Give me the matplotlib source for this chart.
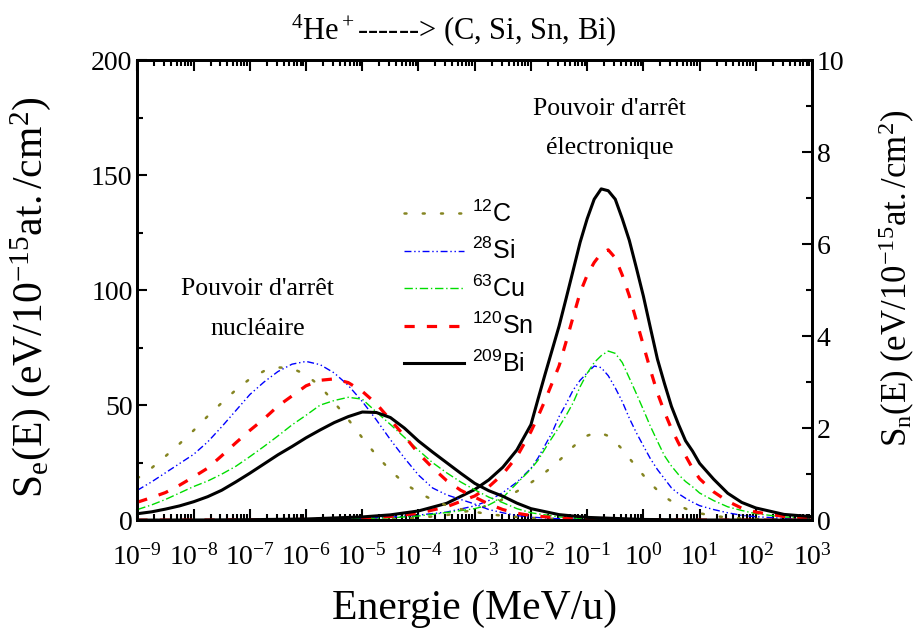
import numpy as np
import matplotlib
matplotlib.use("Agg")
import matplotlib.pyplot as plt
from matplotlib.ticker import LogLocator, FuncFormatter, MultipleLocator, NullFormatter

plt.rcParams['font.family'] = ['Liberation Serif', 'DejaVu Serif']
plt.rcParams['mathtext.fontset'] = 'custom'
plt.rcParams['mathtext.rm'] = 'Liberation Serif'
plt.rcParams['mathtext.it'] = 'Liberation Serif:italic'
plt.rcParams['mathtext.sf'] = 'Liberation Sans'

# log10 of energy (MeV/u) where the curves were read
nuc_logE = [-9, -8.75, -8.5, -8.25, -8, -7.75, -7.5, -7.25, -7, -6.75, -6.5, -6.25, -6,
            -5.75, -5.5, -5.25, -5, -4.75, -4.5, -4.25, -4, -3.75, -3.5, -3.25, -3,
            -2.75, -2.5, -2.25, -2, -1.5, -1, 0, 1, 2, 3]
ele_logE = [-9, -8, -7, -6, -5, -4.5, -4, -3.5, -3, -2.75, -2.5, -2.25, -2, -1.875,
            -1.75, -1.625, -1.5, -1.375, -1.25, -1.125, -1, -0.875, -0.75, -0.625,
            -0.5, -0.375, -0.25, -0.125, 0, 0.125, 0.25, 0.375, 0.5, 0.625, 0.75,
            0.875, 1, 1.25, 1.5, 1.75, 2, 2.5, 3]

# nuclear stopping, right axis (eV/1e-15 at./cm2)
sn_C = [0.91, 1.13, 1.39, 1.66, 1.95, 2.26, 2.55, 2.83, 3.07, 3.24, 3.32, 3.30, 3.16,
        2.91, 2.56, 2.19, 1.79, 1.41, 1.08, 0.80, 0.60, 0.44, 0.32, 0.24, 0.18,
        0.13, 0.095, 0.07, 0.05, 0.025, 0.013, 0.004, 0.0015, 0.0005, 0.0]
sn_Si = [0.65, 0.83, 1.03, 1.23, 1.43, 1.7, 2.03, 2.38, 2.73, 3.0, 3.23, 3.39, 3.45,
         3.38, 3.2, 2.93, 2.58, 2.18, 1.75, 1.35, 0.98, 0.7, 0.55, 0.45, 0.35,
         0.23, 0.16, 0.1, 0.065, 0.03, 0.015, 0.005, 0.0015, 0.0005, 0.0]
sn_Cu = [0.23, 0.33, 0.45, 0.59, 0.73, 0.85, 1.0, 1.17, 1.38, 1.6, 1.83, 2.07, 2.28,
         2.5, 2.6, 2.67, 2.63, 2.35, 2.08, 1.8, 1.52, 1.25, 1.03, 0.83, 0.66,
         0.5, 0.38, 0.25, 0.16, 0.07, 0.03, 0.008, 0.002, 0.0005, 0.0]
sn_Sn = [0.39, 0.49, 0.6, 0.76, 0.94, 1.13, 1.4, 1.68, 1.95, 2.2, 2.48, 2.7, 2.92,
         3.04, 3.07, 2.99, 2.8, 2.53, 2.18, 1.83, 1.45, 1.14, 0.86, 0.65, 0.5,
         0.35, 0.23, 0.15, 0.1, 0.045, 0.02, 0.005, 0.0015, 0.0005, 0.0]
sn_Bi = [0.14, 0.18, 0.24, 0.31, 0.4, 0.51, 0.65, 0.83, 1.02, 1.22, 1.42, 1.6, 1.79,
         1.96, 2.12, 2.25, 2.35, 2.34, 2.23, 2.0, 1.72, 1.48, 1.25, 1.02, 0.8,
         0.64, 0.52, 0.37, 0.25, 0.12, 0.06, 0.015, 0.004, 0.001, 0.0003]

# electronic stopping, left axis
se_C = [0.01, 0.02, 0.05, 0.12, 0.3, 0.6, 1.0, 2.2, 4.5, 6.5, 9.0, 12.5, 16.3, 18.4,
        20.7, 23.2, 25.9, 28.7, 31.9, 34.6, 36.7, 37.8, 37.8, 36.6, 34, 30.8, 26.9,
        23.2, 19.5, 16, 13, 10.2, 8.2, 6.5, 5, 3.8, 3, 1.8, 1.2, 0.7, 0.5, 0.2, 0.1]
se_Si = [0.01, 0.03, 0.1, 0.3, 0.8, 1.3, 2.2, 3.5, 6.2, 8.5, 12, 16.5, 22.5, 27,
         32.5, 38, 45, 50.5, 56.5, 60.8, 64, 67, 66.3, 62.8, 57.5, 51.5, 44.3,
         38, 32.3, 26.7, 22, 18, 14, 11.5, 9.5, 7.8, 6.3, 4.6, 3.2, 2.1, 1.5, 0.8, 0.4]
se_Cu = [0.01, 0.02, 0.06, 0.2, 0.6, 1.0, 1.8, 3.3, 5.0, 6.6, 9.8, 16, 22.2, 26,
         31, 35.8, 40.5, 45.5, 51, 58, 63.8, 68.5, 71.5, 73.5, 72.5, 68.5, 61.8,
         55, 48, 40.8, 34.3, 28, 23.5, 19.8, 16.8, 14.5, 11.8, 8.5, 5.8, 4.2, 2.8, 1.4, 0.8]
se_Sn = [0.01, 0.03, 0.1, 0.3, 0.9, 1.6, 3.0, 5.8, 10.5, 14.5, 20, 27.6, 38.5, 45,
         52, 59.5, 67, 77.5, 88.3, 98.9, 106.5, 112, 116, 117.5, 114, 106.5, 97.5,
         86.8, 76, 65.3, 55.3, 47, 39.7, 33.5, 28, 22.5, 18, 12.3, 8.2, 5.2, 3.5, 1.6, 0.9]
se_Bi = [0.02, 0.06, 0.2, 0.5, 1.4, 2.3, 4.0, 7.3, 13.3, 17.5, 23, 30.5, 41.5, 52.5,
         63.3, 73.8, 84.3, 96.3, 108.5, 120.8, 131, 139.5, 144, 143.2, 139.5, 131,
         121.6, 109.7, 97.4, 83.6, 70, 59.4, 49.4, 41.6, 34.5, 30, 24.7, 17.8, 11.7,
         7.7, 5.3, 2.5, 1.5]

labels = [r'$\mathsf{^{12}C}$', r'$\mathsf{^{28}Si}$', r'$\mathsf{^{63}Cu}$',
          r'$\mathsf{^{120}Sn}$', r'$\mathsf{^{209}Bi}$']

styles = [
    dict(color='#858522', lw=1.8, dashes=(0.8, 6.5), dash_capstyle='round'),
    dict(color='#0000ff', lw=1.0, dashes=(5, 2, 1, 2, 1, 2)),
    dict(color='#00dd00', lw=1.0, dashes=(6, 2, 1, 2)),
    dict(color='#ff0000', lw=2.3, dashes=(3.2, 3.8)),
    dict(color='black', lw=2.2),
]

fig = plt.figure(figsize=(9.16, 6.39), dpi=100)
ax = fig.add_axes([0.150, 0.186, 0.7365, 0.720])
ax2 = ax.twinx()

Ee = 10.0 ** np.array(ele_logE)
En = 10.0 ** np.array(nuc_logE)
for se, sn, lab, st in zip([se_C, se_Si, se_Cu, se_Sn, se_Bi],
                           [sn_C, sn_Si, sn_Cu, sn_Sn, sn_Bi], labels, styles):
    ax.plot(Ee, se, label=lab, **st)
    ax2.plot(En, sn, **st)

ax.set_xscale('log')
ax.set_xlim(1e-9, 1e3)
ax.set_ylim(0, 200)
ax2.set_ylim(0, 10)

ax.xaxis.set_major_locator(LogLocator(base=10, numticks=20))
ax.xaxis.set_minor_locator(LogLocator(base=10, subs=np.arange(2, 10), numticks=20))
ax.xaxis.set_minor_formatter(NullFormatter())
ax.xaxis.set_major_formatter(FuncFormatter(lambda v, p: r'$\mathrm{10^{%d}}$' % round(np.log10(v))))
ax.yaxis.set_major_locator(MultipleLocator(50))
ax.yaxis.set_minor_locator(MultipleLocator(25))
ax2.yaxis.set_major_locator(MultipleLocator(2))
ax2.yaxis.set_minor_locator(MultipleLocator(1))

ax.tick_params(axis='x', which='both', direction='in', top=True, labelsize=20, pad=17)
ax.tick_params(axis='x', which='major', length=8, width=1.5)
ax.tick_params(axis='x', which='minor', length=4.5, width=1.5)
ax.tick_params(axis='y', which='both', direction='in', right=False, labelsize=20, width=1.5)
ax.tick_params(axis='y', which='major', length=7)
ax.tick_params(axis='y', which='minor', length=4)
ax2.tick_params(axis='y', which='both', direction='in', labelsize=20, width=1.5)
ax2.tick_params(axis='y', which='major', length=7)
ax2.tick_params(axis='y', which='minor', length=4)
for a in (ax, ax2):
    for s in a.spines.values():
        s.set_linewidth(2)

ax.set_xlabel('Energie (MeV/u)', fontsize=30, labelpad=14)
ax.set_ylabel(r'$\mathrm{S_e(E)\ (eV/10^{-15}at./cm^2)}$', fontsize=30)
ax.yaxis.set_label_coords(-0.125, 0.484)
ax2.set_ylabel(r'$\mathrm{S_n(E)\ (eV/10^{-15}at./cm^2)}$', fontsize=25)
ax2.yaxis.set_label_coords(1.096, 0.526)

fig.text(0.495, 0.953, r'$\mathrm{^4He^+}$------> (C, Si, Sn, Bi)',
         ha='center', va='center', fontsize=22)

ax.text(0.178, 0.459, "Pouvoir d'arrêt\nnucléaire", transform=ax.transAxes,
        ha='center', va='center', fontsize=18.5, linespacing=2.1)
ax.text(0.70, 0.852, "Pouvoir d'arrêt\nélectronique", transform=ax.transAxes,
        ha='center', va='center', fontsize=18.5, linespacing=2.0)

ax2.legend(*ax.get_legend_handles_labels(), loc='upper left',
           bbox_to_anchor=(0.376, 0.722), frameon=False, fontsize=18,
           handlelength=2.4, handletextpad=0.35, labelspacing=0.445, borderpad=0)

fig.savefig('out.png', dpi=100)
